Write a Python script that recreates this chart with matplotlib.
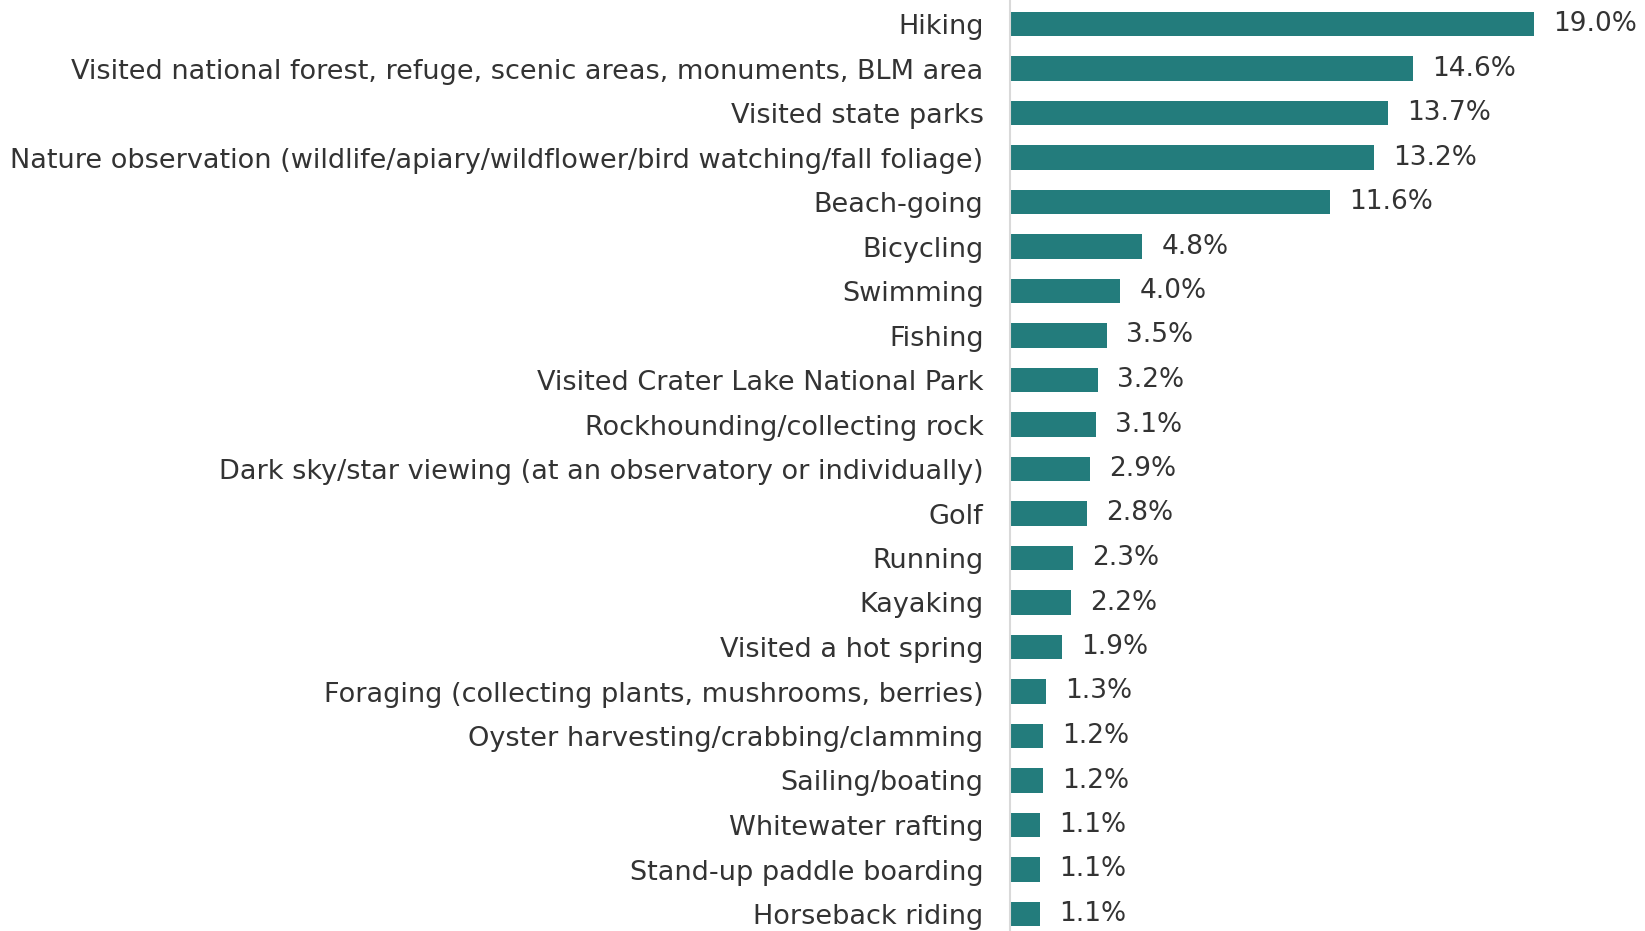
import matplotlib

matplotlib.use("Agg")
import matplotlib.pyplot as plt

activities = [
    "Hiking",
    "Visited national forest, refuge, scenic areas, monuments, BLM area",
    "Visited state parks",
    "Nature observation (wildlife/apiary/wildflower/bird watching/fall foliage)",
    "Beach-going",
    "Bicycling",
    "Swimming",
    "Fishing",
    "Visited Crater Lake National Park",
    "Rockhounding/collecting rock",
    "Dark sky/star viewing (at an observatory or individually)",
    "Golf",
    "Running",
    "Kayaking",
    "Visited a hot spring",
    "Foraging (collecting plants, mushrooms, berries)",
    "Oyster harvesting/crabbing/clamming",
    "Sailing/boating",
    "Whitewater rafting",
    "Stand-up paddle boarding",
    "Horseback riding",
]
shares = [19.0, 14.6, 13.7, 13.2, 11.6, 4.8, 4.0, 3.5, 3.2, 3.1, 2.9, 2.8,
          2.3, 2.2, 1.9, 1.3, 1.2, 1.2, 1.1, 1.1, 1.1]

BAR = "#237C7C"
TXT = "#333333"
plt.rcParams["font.family"] = ["DejaVu Sans"]

W, H = 1645, 931
fig = plt.figure(figsize=(W / 100, H / 100), dpi=100)
left = 1010 / W
ax = fig.add_axes([left, 0, 1 - left, 1])

pos = list(range(len(activities)))
ax.barh(pos, shares, height=0.56, color=BAR)
ax.set_ylim(20 + (H - 914) / 44.5, -24 / 44.5)
# 27.6 px per percentage point
ax.set_xlim(0, (W - 1010) / 27.6)

for y, v in zip(pos, shares):
    ax.text(v + 19 / 27.6, y, f"{v:.1f}%", va="center", ha="left",
            fontsize=19, color=TXT)

ax.set_yticks(pos)
ax.set_yticklabels(activities, fontsize=19.5, color=TXT)
ax.tick_params(axis="y", length=0, pad=19)
ax.set_xticks([])
for s in ["top", "right", "bottom"]:
    ax.spines[s].set_visible(False)
ax.spines["left"].set_color("#d9d9d9")
ax.spines["left"].set_linewidth(1.5)

fig.savefig("out.png", dpi=100, facecolor="white")
